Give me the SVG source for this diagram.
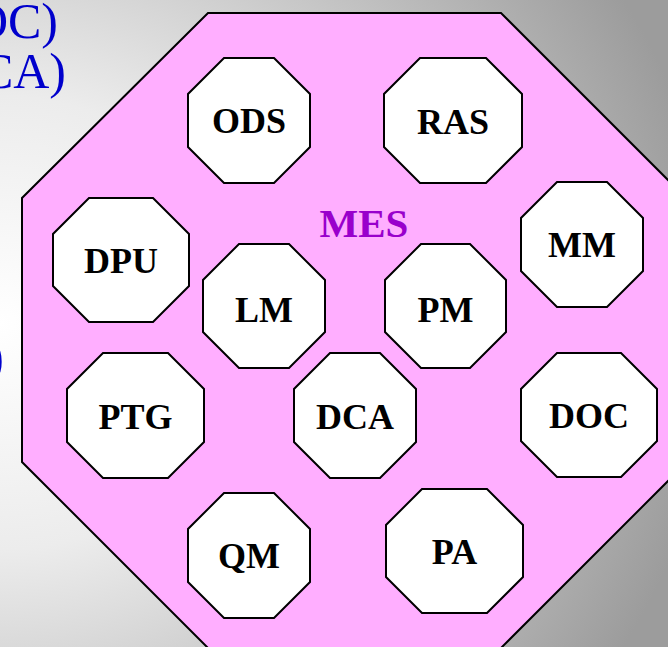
<svg xmlns="http://www.w3.org/2000/svg" width="668" height="647" viewBox="0 0 668 647">
<defs>
<radialGradient id="bg" gradientUnits="userSpaceOnUse" cx="0" cy="323" r="720" gradientTransform="translate(0,323) scale(1,0.9) translate(0,-323)">
<stop offset="0" stop-color="#ffffff"/>
<stop offset="0.35" stop-color="#ececec"/>
<stop offset="1" stop-color="#9c9c9c"/>
</radialGradient>
</defs>
<style>
.oct{fill:#ffaeff;stroke:#000;stroke-width:2}
.node polygon{fill:#fff;stroke:#000;stroke-width:2}
.node text{font-family:"Liberation Serif","Times New Roman",serif;font-weight:bold;font-size:36px;fill:#000;text-anchor:middle}
.side{font-family:"Liberation Serif","Times New Roman",serif;font-size:50px;fill:#0000cc;text-anchor:end}
.title{font-family:"Liberation Serif","Times New Roman",serif;font-weight:bold;font-size:41px;fill:#9900cc;text-anchor:middle}
</style>
<rect x="0" y="0" width="668" height="647" fill="url(#bg)"/>
<text class="side" x="58" y="38">(DOC)</text>
<text class="side" x="66" y="88">(DCA)</text>
<text class="side" x="4" y="374">)</text>
<g id="MES">
<polygon class="oct" points="208,13 501,13 687,199 687,462 501,648 208,648 22,462 22,198"/>
<text class="title" x="364" y="237">MES</text>
</g>
<g id="ODS" class="node"><polygon points="224,58 274,58 310,94 310,147 274,183 224,183 188,147 188,94"/><text x="249" y="133">ODS</text></g>
<g id="RAS" class="node"><polygon points="420,58 486,58 522,94 522,147 486,183 420,183 384,147 384,94"/><text x="453" y="134">RAS</text></g>
<g id="DPU" class="node"><polygon points="89,198 153,198 189,234 189,286 153,322 89,322 53,286 53,234"/><text x="121" y="273">DPU</text></g>
<g id="MM" class="node"><polygon points="557,182 607,182 643,218 643,271 607,307 557,307 521,271 521,218"/><text x="582" y="257">MM</text></g>
<g id="LM" class="node"><polygon points="239,244 289,244 325,280 325,332 289,368 239,368 203,332 203,280"/><text x="264" y="322">LM</text></g>
<g id="PM" class="node"><polygon points="421,244 470,244 506,280 506,332 470,368 421,368 385,332 385,280"/><text x="445.5" y="322">PM</text></g>
<g id="PTG" class="node"><polygon points="103,353 168,353 204,389 204,442 168,478 103,478 67,442 67,389"/><text x="135.5" y="429">PTG</text></g>
<g id="DCA" class="node"><polygon points="330,353 380,353 416,389 416,442 380,478 330,478 294,442 294,389"/><text x="355" y="429">DCA</text></g>
<g id="DOC" class="node"><polygon points="557,353 621,353 657,389 657,441 621,477 557,477 521,441 521,389"/><text x="589" y="428">DOC</text></g>
<g id="QM" class="node"><polygon points="224,493 274,493 310,529 310,582 274,618 224,618 188,582 188,529"/><text x="249" y="568">QM</text></g>
<g id="PA" class="node"><polygon points="422,489 487,489 523,525 523,577 487,613 422,613 386,577 386,525"/><text x="454.5" y="564">PA</text></g>
</svg>
